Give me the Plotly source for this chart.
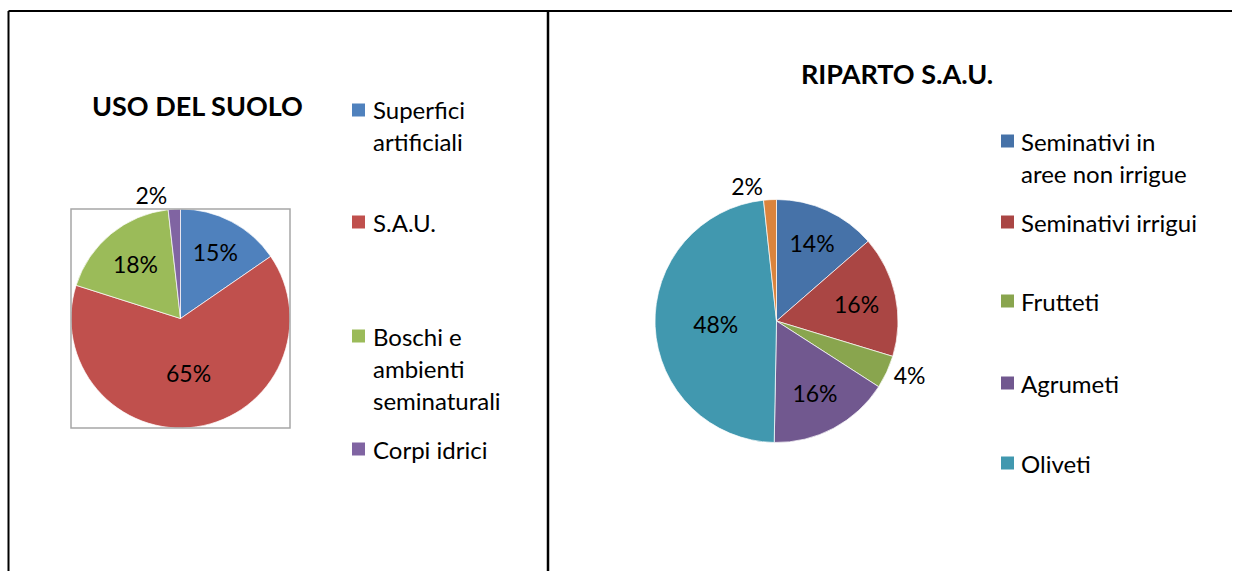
import plotly.graph_objects as go

W, H = 1235, 571

# ---- data ----
left_title = "USO DEL SUOLO"
left_labels = ["Superfici artificiali", "S.A.U.", "Boschi e ambienti seminaturali", "Corpi idrici"]
left_legend_lines = [["Superfici", "artificiali"], ["S.A.U."], ["Boschi e", "ambienti", "seminaturali"], ["Corpi idrici"]]
left_values = [15.4, 64.5, 18.3, 1.8]
left_colors = ["#4F81BD", "#C0504D", "#9BBB59", "#8064A2"]

right_title = "RIPARTO S.A.U."
right_labels = ["Seminativi in aree non irrigue", "Seminativi irrigui", "Frutteti", "Agrumeti", "Oliveti", "Altro"]
right_legend_lines = [["Seminativi in", "aree non irrigue"], ["Seminativi irrigui"], ["Frutteti"], ["Agrumeti"], ["Oliveti"]]
right_values = [13.6, 16.1, 4.4, 16.2, 48.0, 1.7]
right_colors = ["#4672A8", "#AA4644", "#89A54E", "#71588F", "#4198AF", "#DB843D"]

FONT = "Lato"
LEG_SIZE = 24
PCT_SIZE = 23
TITLE_SIZE = 27


def px(x):
    return x / W


def py(y):
    return 1 - y / H


fig = go.Figure()

fig.add_trace(go.Pie(
    labels=left_labels, values=left_values, sort=False, direction="clockwise", rotation=0,
    marker=dict(colors=left_colors, line=dict(color="white", width=0.7)),
    texttemplate="%{percent:.0%}", textposition=["inside", "inside", "inside", "outside"],
    insidetextorientation="horizontal",
    textfont=dict(family=FONT, size=PCT_SIZE, color="black"),
    domain=dict(x=[px(71), px(290)], y=[py(428), py(209)]),
    showlegend=False, hoverinfo="label+percent",
))

fig.add_trace(go.Pie(
    labels=right_labels, values=right_values, sort=False, direction="clockwise", rotation=0,
    marker=dict(colors=right_colors, line=dict(color="white", width=0.7)),
    texttemplate="%{percent:.0%}", textposition=["inside", "inside", "outside", "inside", "inside", "outside"],
    insidetextorientation="horizontal",
    textfont=dict(family=FONT, size=PCT_SIZE, color="black"),
    domain=dict(x=[px(655), px(898)], y=[py(443), py(199)]),
    showlegend=False, hoverinfo="label+percent",
))

shapes = []
annotations = []

# frame lines
shapes.append(dict(type="line", xref="paper", yref="paper", x0=px(8.5), x1=px(1232), y0=py(11), y1=py(11),
                   line=dict(color="black", width=2)))
shapes.append(dict(type="line", xref="paper", yref="paper", x0=px(8.5), x1=px(8.5), y0=py(11), y1=py(580),
                   line=dict(color="black", width=2)))
shapes.append(dict(type="line", xref="paper", yref="paper", x0=px(548), x1=px(548), y0=py(11), y1=py(580),
                   line=dict(color="black", width=2.5)))
# plot-area box around left pie
shapes.append(dict(type="rect", xref="paper", yref="paper", x0=px(71), x1=px(290), y0=py(428), y1=py(209),
                   line=dict(color="#A6A6A6", width=1.5)))

# titles
annotations.append(dict(text="<b>" + left_title + "</b>", x=px(197), y=py(105), xref="paper", yref="paper",
                        showarrow=False, xanchor="center", yanchor="middle",
                        font=dict(family=FONT, size=TITLE_SIZE, color="black")))
annotations.append(dict(text="<b>" + right_title + "</b>", x=px(897), y=py(73), xref="paper", yref="paper",
                        showarrow=False, xanchor="center", yanchor="middle",
                        font=dict(family=FONT, size=TITLE_SIZE, color="black")))


def legend(lines_list, colors, sq_x, text_x, first_line_ys, sq=13, line_gap=32):
    for lines, col, y0 in zip(lines_list, colors, first_line_ys):
        shapes.append(dict(type="rect", xref="paper", yref="paper",
                           x0=px(sq_x), x1=px(sq_x + sq), y0=py(y0 + sq / 2), y1=py(y0 - sq / 2),
                           fillcolor=col, line=dict(width=0)))
        for i, t in enumerate(lines):
            annotations.append(dict(text=t, x=px(text_x), y=py(y0 + i * line_gap), xref="paper", yref="paper",
                                    showarrow=False, xanchor="left", yanchor="middle",
                                    font=dict(family=FONT, size=LEG_SIZE, color="black")))


legend(left_legend_lines, left_colors, 352, 371, [110, 222, 336, 449])
legend(right_legend_lines, right_colors[:5], 1001, 1019, [141, 222, 301, 383, 463])

fig.update_layout(
    width=W, height=H, margin=dict(l=0, r=0, t=0, b=0),
    paper_bgcolor="white", plot_bgcolor="white",
    shapes=shapes, annotations=annotations,
    font=dict(family=FONT),
)

fig.write_html("out.html", config={"displayModeBar": False},
               post_script="document.body.style.margin='0';document.body.style.overflow='hidden';")
